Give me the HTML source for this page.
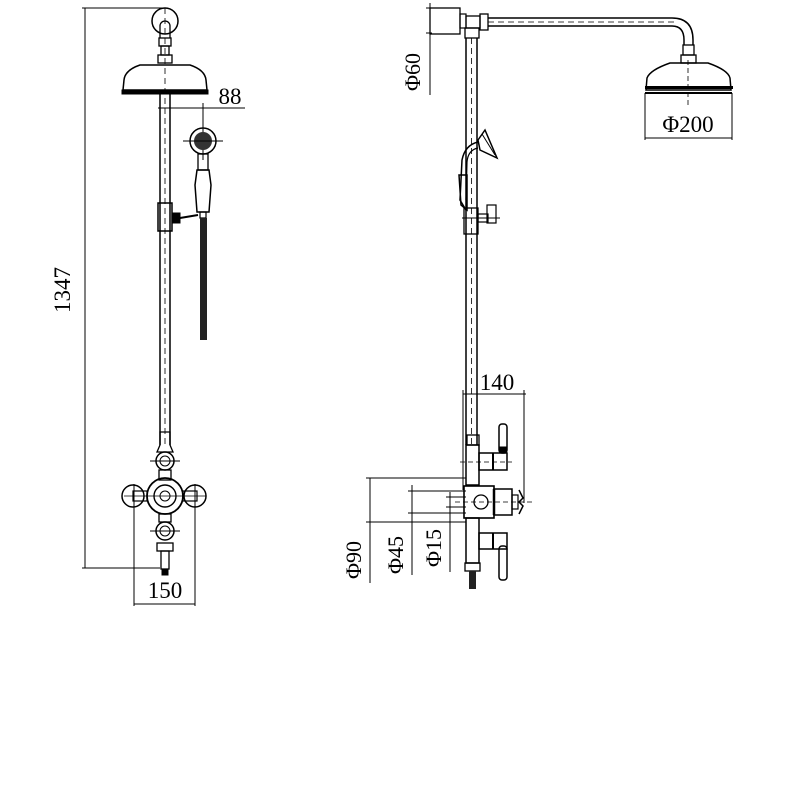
<!DOCTYPE html>
<html><head><meta charset="utf-8"><style>
html,body{margin:0;padding:0;background:#fff;}
svg{display:block;}
text{font-family:"Liberation Serif",serif;fill:#000;}
</style></head><body>
<svg width="800" height="800" viewBox="0 0 800 800" xmlns="http://www.w3.org/2000/svg" fill="none" stroke="#000" stroke-width="1">
<!-- ============ LEFT VIEW ============ -->
<!-- 1347 dim -->
<line x1="85" y1="8" x2="85" y2="568"/>
<line x1="82" y1="8" x2="165" y2="8"/>
<line x1="82" y1="568" x2="160" y2="568"/>
<text x="70" y="290" font-size="23" text-anchor="middle" transform="rotate(-90 70 290)" stroke="none">1347</text>
<!-- top wall circle -->
<circle cx="165" cy="21" r="13" stroke-width="1.5"/>
<path d="M160 38 V26 a5 5 0 0 1 10 0 V38" stroke-width="1.3"/>
<rect x="159" y="38" width="12" height="8" stroke-width="1.3"/>
<rect x="161" y="46" width="8" height="9" stroke-width="1.3"/>
<rect x="158" y="55" width="14" height="8" stroke-width="1.3"/>
<!-- head -->
<path d="M140 65 L190 65 Q205 70 206 80 L207 90 L123 90 L124 80 Q125 70 140 65 Z" stroke-width="1.5"/>
<rect x="122" y="90" width="86" height="4" fill="#000"/>
<!-- pole -->
<line x1="160" y1="94" x2="160" y2="445" stroke-width="1.5"/>
<line x1="170" y1="94" x2="170" y2="445" stroke-width="1.5"/>
<line x1="165" y1="8" x2="165" y2="445" stroke-dasharray="6 4" stroke-width="0.8"/>
<!-- 88 dim -->
<line x1="158" y1="108" x2="245" y2="108"/>
<line x1="203" y1="103" x2="203" y2="160"/>
<text x="230" y="104" font-size="23" text-anchor="middle" stroke="none">88</text>
<!-- hand shower -->
<circle cx="203" cy="141" r="13" stroke-width="1.5"/>
<circle cx="203" cy="141" r="9" fill="#333" stroke="none"/>
<line x1="183" y1="141" x2="223" y2="141"/>
<rect x="198" y="154" width="10" height="16" stroke-width="1.3"/>
<path d="M197 170 L209 170 L211 185 L209 212 L197 212 L195 185 Z" stroke-width="1.5"/>
<rect x="200" y="212" width="6" height="6" stroke-width="1.2"/>
<!-- bracket -->
<rect x="158" y="203" width="14" height="28" stroke-width="1.5"/>
<rect x="172" y="213" width="8" height="10" fill="#000"/>
<line x1="180" y1="218" x2="198" y2="215" stroke-width="2"/>
<!-- hose -->
<rect x="200" y="218" width="7" height="122" fill="#222" stroke="none"/>
<!-- valve upper -->
<path d="M160 445 L160 432 L170 432 L170 445 L173 452 L157 452 Z" stroke-width="1.3"/>
<circle cx="165" cy="461" r="9" stroke-width="1.5"/>
<circle cx="165" cy="461" r="5"/>
<line x1="150" y1="461" x2="180" y2="461"/>
<rect x="159" y="470" width="12" height="10" stroke-width="1.3"/>
<circle cx="165" cy="496" r="18" stroke-width="1.8"/>
<circle cx="165" cy="496" r="11" stroke-width="1.4"/>
<circle cx="165" cy="496" r="5"/>
<circle cx="133" cy="496" r="11" stroke-width="1.5"/>
<circle cx="195" cy="496" r="11" stroke-width="1.5"/>
<rect x="133" y="491" width="14" height="10" stroke-width="1.2"/>
<rect x="183" y="491" width="14" height="10" stroke-width="1.2"/>
<line x1="124" y1="496" x2="206" y2="496" stroke-width="0.8"/>
<rect x="159" y="514" width="12" height="8" stroke-width="1.3"/>
<circle cx="165" cy="531" r="9" stroke-width="1.5"/>
<circle cx="165" cy="531" r="5"/>
<line x1="150" y1="531" x2="180" y2="531"/>
<rect x="157" y="543" width="16" height="8" stroke-width="1.3"/>
<rect x="161" y="551" width="8" height="18" stroke-width="1.3"/>
<rect x="162" y="569" width="6" height="6" fill="#000"/>
<!-- 150 dim -->
<line x1="134" y1="484" x2="134" y2="606"/>
<line x1="195" y1="484" x2="195" y2="606"/>
<line x1="134" y1="604" x2="195" y2="604"/>
<text x="165" y="598" font-size="23" text-anchor="middle" stroke="none">150</text>

<!-- ============ RIGHT VIEW ============ -->
<!-- wall box & phi60 -->
<rect x="430" y="8" width="30" height="26" stroke-width="1.3"/>
<line x1="430" y1="3" x2="430" y2="95"/>
<line x1="426" y1="8" x2="432" y2="8"/>
<line x1="426" y1="33" x2="432" y2="33"/>
<text x="420" y="72" font-size="22" text-anchor="middle" transform="rotate(-90 420 72)" stroke="none">Φ60</text>
<rect x="460" y="14" width="6" height="14" stroke-width="1.2"/>
<!-- tee -->
<rect x="466" y="16" width="14" height="12" stroke-width="1.3"/>
<rect x="480" y="14" width="8" height="16" stroke-width="1.3"/>
<rect x="465" y="28" width="14" height="10" stroke-width="1.3"/>
<!-- arm -->
<path d="M488 18 L672 18 Q693 18 693 40 L693 45" stroke-width="1.5"/>
<path d="M488 26 L672 26 Q684 26 684 40 L684 45" stroke-width="1.5"/>
<line x1="488" y1="22" x2="675" y2="22" stroke-dasharray="6 4" stroke-width="0.7"/>
<rect x="683" y="45" width="11" height="10" stroke-width="1.3"/>
<rect x="681" y="55" width="15" height="8" stroke-width="1.3"/>
<path d="M670 63 L708 63 Q728 70 730 78 L731 90 L646 90 L647 78 Q650 70 670 63 Z" stroke-width="1.5"/>
<rect x="645" y="86" width="88" height="3" fill="#000" stroke="none"/>
<line x1="645" y1="93" x2="732" y2="93" stroke-width="2"/>
<line x1="688" y1="60" x2="688" y2="105" stroke-dasharray="5 3" stroke-width="0.8"/>
<!-- phi200 -->
<line x1="645" y1="93" x2="645" y2="140"/>
<line x1="732" y1="93" x2="732" y2="140"/>
<line x1="645" y1="138" x2="732" y2="138"/>
<text x="688" y="132" font-size="23" text-anchor="middle" stroke="none">Φ200</text>
<!-- pole -->
<line x1="466" y1="38" x2="466" y2="445" stroke-width="1.5"/>
<line x1="477" y1="38" x2="477" y2="445" stroke-width="1.5"/>
<line x1="471.5" y1="38" x2="471.5" y2="445" stroke-dasharray="6 4" stroke-width="0.8"/>
<!-- hand shower side -->
<path d="M478 140 L485 130 L497 158 L480 150 Z" stroke-width="1.5"/>
<path d="M482 134 L495 155" stroke-width="1"/>
<path d="M478 142 Q465 145 462 160 L460 200 L466 210" stroke-width="1.5"/>
<path d="M478 148 Q468 150 467 162 L466 200" stroke-width="1.2"/>
<path d="M459 175 L467 175 L467 210 L461 205 Z" stroke-width="1.5"/>
<rect x="464" y="208" width="14" height="26" stroke-width="1.3"/>
<rect x="478" y="214" width="10" height="8" stroke-width="1.2"/>
<rect x="487" y="205" width="9" height="18" stroke-width="1.2"/>
<line x1="462" y1="218" x2="500" y2="218"/>
<!-- 140 dim -->
<line x1="463" y1="394" x2="526" y2="394"/>
<line x1="463" y1="390" x2="463" y2="490"/>
<line x1="524" y1="390" x2="524" y2="503"/>
<text x="497" y="390" font-size="23" text-anchor="middle" stroke="none">140</text>
<!-- column of valves -->
<rect x="467" y="435" width="12" height="10" stroke-width="1.3"/>
<rect x="466" y="445" width="13" height="40" stroke-width="1.5"/>
<rect x="479" y="453" width="28" height="17" stroke-width="1.5"/>
<line x1="493" y1="453" x2="493" y2="470" stroke-width="2"/>
<rect x="499" y="424" width="8" height="29" rx="3" stroke-width="1.5"/>
<rect x="500" y="447" width="6" height="5" fill="#000"/>
<line x1="460" y1="462" x2="512" y2="462" stroke-dasharray="5 3" stroke-width="0.8"/>
<rect x="464" y="486" width="30" height="32" stroke-width="1.6"/>
<circle cx="481" cy="502" r="7" stroke-width="1.3"/>
<rect x="494" y="489" width="18" height="26" stroke-width="1.5"/>
<line x1="494" y1="489" x2="494" y2="515" stroke-width="2.5"/>
<rect x="512" y="495" width="6" height="14" stroke-width="1.2"/>
<path d="M519 490 L523 498 L519 502 L523 506 L519 514" stroke-width="1.5"/>
<line x1="455" y1="502" x2="533" y2="502" stroke-dasharray="5 3" stroke-width="0.8"/>
<rect x="466" y="518" width="13" height="45" stroke-width="1.5"/>
<rect x="479" y="533" width="28" height="16" stroke-width="1.5"/>
<line x1="493" y1="533" x2="493" y2="549" stroke-width="2"/>
<rect x="499" y="546" width="8" height="34" rx="3" stroke-width="1.5"/>
<rect x="465" y="563" width="15" height="8" stroke-width="1.3"/>
<rect x="469" y="571" width="7" height="18" fill="#222" stroke="none"/>
<!-- phi dims -->
<line x1="370" y1="478" x2="370" y2="583"/>
<line x1="366" y1="478" x2="466" y2="478"/>
<line x1="366" y1="522" x2="466" y2="522"/>
<line x1="412" y1="485" x2="412" y2="575"/>
<line x1="408" y1="491" x2="466" y2="491"/>
<line x1="408" y1="513" x2="466" y2="513"/>
<line x1="450" y1="492" x2="450" y2="572"/>
<line x1="446" y1="497" x2="466" y2="497"/>
<line x1="446" y1="507" x2="466" y2="507"/>
<text x="361" y="560" font-size="22" text-anchor="middle" transform="rotate(-90 361 560)" stroke="none">Φ90</text>
<text x="403" y="555" font-size="22" text-anchor="middle" transform="rotate(-90 403 555)" stroke="none">Φ45</text>
<text x="441" y="548" font-size="22" text-anchor="middle" transform="rotate(-90 441 548)" stroke="none">Φ15</text>
</svg>
</body></html>
